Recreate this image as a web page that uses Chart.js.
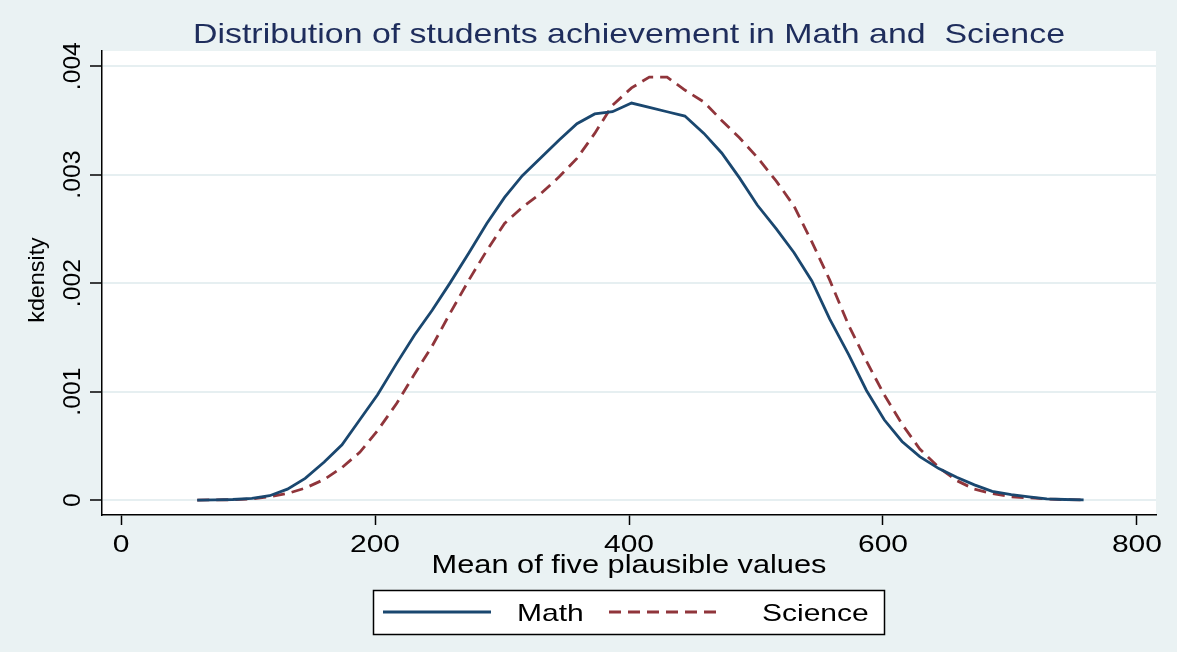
<!DOCTYPE html>
<html>
<head>
<meta charset="utf-8">
<script src="https://cdn.jsdelivr.net/npm/chart.js@4/dist/chart.umd.min.js"></script>
<style>
  html, body { margin: 0; padding: 0; background: #EAF2F3; }
  #wrap { width: 1177px; height: 652px; position: relative; }
</style>
</head>
<body>
<div id="wrap"><canvas id="c"></canvas></div>
<script>
// ---- data ----
const scores = [60, 74, 88, 103, 117, 131, 145, 160, 174, 188, 202, 217, 231, 245, 259, 274, 288, 302, 316, 331,
  345, 359, 373, 387, 402, 416, 430, 444, 459, 473, 487, 501, 516, 530, 544, 558, 573, 587, 601, 615,
  629, 644, 658, 672, 686, 701, 715, 729, 743, 758];
const mathDensity = [0, 0.000002, 0.000005, 0.000015, 0.00004, 0.0001, 0.0002, 0.00035, 0.00051, 0.00074,
  0.00097, 0.00126, 0.00152, 0.00175, 0.002, 0.00228, 0.00255, 0.00279, 0.00299, 0.00316,
  0.00332, 0.00347, 0.00356, 0.00358, 0.00366, 0.00362, 0.00358, 0.00354, 0.00338, 0.0032,
  0.00297, 0.00272, 0.0025, 0.00228, 0.00202, 0.00167, 0.00134, 0.00101, 0.00074, 0.00054,
  0.0004, 0.00029, 0.00021, 0.00014, 0.00008, 0.00005, 0.00003, 0.00001, 0.000005, 0.000002];
const scienceDensity = [0, 0.000001, 0.000003, 0.00001, 0.00003, 0.00006, 0.00011, 0.00019, 0.0003, 0.00044,
  0.00064, 0.00089, 0.00116, 0.00142, 0.00172, 0.00203, 0.0023, 0.00255, 0.0027, 0.00283,
  0.00298, 0.00315, 0.00338, 0.00364, 0.0038, 0.0039, 0.0039, 0.00378, 0.00367, 0.0035,
  0.00334, 0.00316, 0.00294, 0.00271, 0.00238, 0.00203, 0.00161, 0.00128, 0.00097, 0.0007,
  0.00047, 0.0003, 0.00018, 0.0001, 0.00006, 0.00003, 0.00002, 0.00001, 0.000004, 0.000001];
const seriesNames = ['Math', 'Science'];
const xTickValues = [0, 200, 400, 600, 800];
const xTickLabels = ['0', '200', '400', '600', '800'];
const yTickValues = [0, 0.001, 0.002, 0.003, 0.004];
const yTickLabels = ['0', '.001', '.002', '.003', '.004'];
const titleText = 'Distribution of students achievement in Math and  Science';
const xTitleText = 'Mean of five plausible values';
const yTitleText = 'kdensity';

// ---- styles ----
const BG = '#EAF2F3';
const FONT = "'Liberation Sans', Arial, sans-serif";

function drawText(ctx, s, x, y, o) {
  ctx.save();
  ctx.translate(x, y);
  if (o.rot) ctx.rotate(o.rot);
  ctx.scale(o.sx || 1, 1);
  ctx.font = o.font;
  ctx.fillStyle = o.color || '#000';
  ctx.textAlign = o.align || 'center';
  ctx.textBaseline = o.baseline || 'alphabetic';
  ctx.fillText(s, 0, 0);
  ctx.restore();
}

const decor = {
  id: 'decor',
  beforeDraw(chart) {
    const { ctx, chartArea: a } = chart;
    ctx.save();
    ctx.fillStyle = BG;
    ctx.fillRect(0, 0, chart.width, chart.height);
    ctx.fillStyle = '#FFFFFF';
    ctx.fillRect(a.left, a.top, a.right - a.left, a.bottom - a.top);
    ctx.restore();
  },
  afterDraw(chart) {
    const { ctx, chartArea: a } = chart;
    const xs = chart.scales.x, ys = chart.scales.y;
    const cx = (a.left + a.right) / 2;
    // title
    drawText(ctx, titleText, cx, 43, { font: `28px ${FONT}`, color: '#1E2D5C', sx: 1.21 });
    // x tick labels
    xTickValues.forEach((v, i) => {
      drawText(ctx, xTickLabels[i], xs.getPixelForValue(v), 552, { font: `24px ${FONT}`, sx: 1.25 });
    });
    // y tick labels (rotated)
    yTickValues.forEach((v, i) => {
      drawText(ctx, yTickLabels[i], 80, ys.getPixelForValue(v), { font: `24px ${FONT}`, rot: -Math.PI / 2, sx: 1.03 });
    });
    // axis titles
    drawText(ctx, xTitleText, cx, 573, { font: `25px ${FONT}`, sx: 1.23 });
    drawText(ctx, yTitleText, 44, (a.top + a.bottom) / 2 - 3, { font: `22px ${FONT}`, rot: -Math.PI / 2, sx: 1.06 });
    // legend
    ctx.save();
    ctx.fillStyle = '#FFFFFF';
    ctx.fillRect(373, 590, 511, 44);
    ctx.strokeStyle = '#000';
    ctx.lineWidth = 1.5;
    ctx.strokeRect(373.5, 590.5, 511, 44);
    const ds = chart.data.datasets;
    const items = [{ x0: 383, x1: 491, tx: 517 }, { x0: 609, x1: 717, tx: 762 }];
    items.forEach((it, i) => {
      ctx.save();
      ctx.strokeStyle = ds[i].borderColor;
      ctx.lineWidth = ds[i].borderWidth;
      ctx.setLineDash(ds[i].borderDash || []);
      ctx.beginPath();
      ctx.moveTo(it.x0, 612);
      ctx.lineTo(it.x1, 612);
      ctx.stroke();
      ctx.restore();
      drawText(ctx, ds[i].label, it.tx, 621, { font: `24px ${FONT}`, align: 'left', sx: 1.25 });
    });
    ctx.restore();
  }
};

new Chart(document.getElementById('c'), {
  type: 'line',
  data: {
    datasets: [
      {
        label: seriesNames[0],
        data: scores.map((x, i) => ({ x, y: mathDensity[i] })),
        borderColor: '#1A476F',
        borderWidth: 2.8,
        pointRadius: 0,
        tension: 0,
        fill: false
      },
      {
        label: seriesNames[1],
        data: scores.map((x, i) => ({ x, y: scienceDensity[i] })),
        borderColor: '#90353B',
        borderWidth: 2.8,
        borderDash: [12, 7],
        pointRadius: 0,
        tension: 0,
        fill: false
      }
    ]
  },
  options: {
    responsive: true,
    maintainAspectRatio: false,
    animation: false,
    devicePixelRatio: 1,
    layout: { padding: { left: 0, top: 51, right: 21, bottom: 0 } },
    plugins: { legend: { display: false }, title: { display: false }, tooltip: { enabled: false } },
    scales: {
      x: {
        type: 'linear',
        min: -15,
        max: 815,
        afterBuildTicks: s => { s.ticks = xTickValues.map(v => ({ value: v })); },
        afterFit: s => { s.height = 137; },
        ticks: { display: false },
        grid: { drawOnChartArea: false, drawTicks: true, tickLength: 10, tickColor: '#000', tickWidth: 1.5 },
        border: { display: true, color: '#000', width: 1.5 }
      },
      y: {
        type: 'linear',
        min: -0.000138,
        max: 0.00414,
        afterBuildTicks: s => { s.ticks = yTickValues.map(v => ({ value: v })); },
        afterFit: s => { s.width = 102; },
        ticks: { display: false },
        grid: { color: '#E6EFF1', lineWidth: 2, drawTicks: true, tickLength: 12, tickColor: '#000', tickWidth: 1.5 },
        border: { display: true, color: '#000', width: 1.5 }
      }
    }
  },
  plugins: [decor]
});
</script>
</body>
</html>
